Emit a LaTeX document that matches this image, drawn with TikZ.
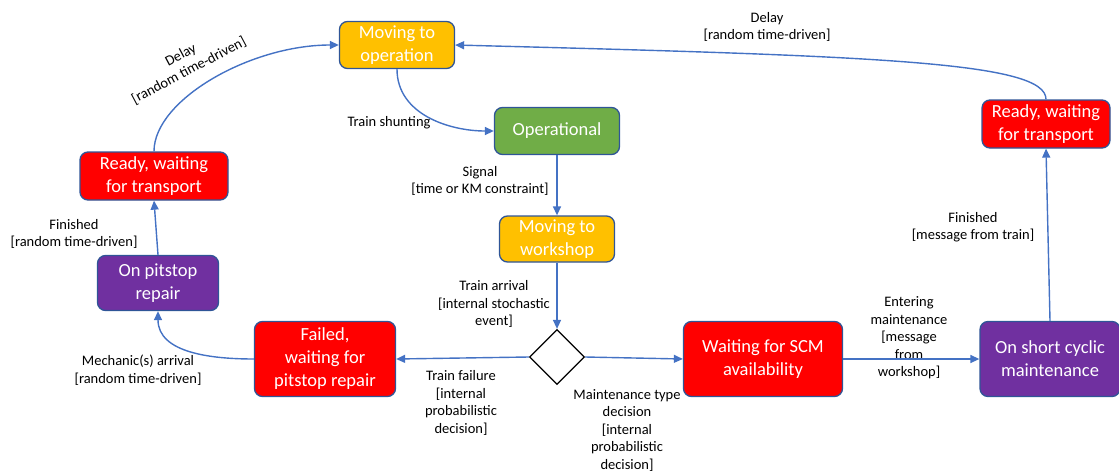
\documentclass[tikz,border=0pt]{standalone}
\usepackage{fontspec}
\setmainfont{Carlito}
\usetikzlibrary{positioning, shapes.geometric, arrows.meta}
\definecolor{stOrange}{RGB}{255,192,0}
\definecolor{stGreen}{RGB}{112,173,71}
\definecolor{stRed}{RGB}{255,0,0}
\definecolor{stPurple}{RGB}{112,48,160}
\definecolor{stBorder}{RGB}{47,85,151}
\definecolor{stArrow}{RGB}{68,114,196}

\begin{document}
\begin{tikzpicture}[x=1pt, y=-1pt,
    state/.style={rectangle, rounded corners=8pt, draw=stBorder, line width=1.3pt, text=white, align=center, font=\fontsize{18.5}{23}\selectfont, inner sep=2pt},
    decision/.style={diamond, draw=black, fill=white, line width=1.2pt, minimum width=55pt, minimum height=55pt, inner sep=0pt},
    trans/.style={stArrow, line width=1.4pt, -{Triangle[length=9pt, width=8pt]}},
    lbl/.style={align=center, font=\fontsize{14.5}{17.5}\selectfont, text=black}
]
\useasboundingbox (0,0) rectangle (1119,471);

% states
\node[state, fill=stOrange, minimum width=115pt, minimum height=47pt] (movop) at (397,45) {Moving to\\operation};
\node[state, fill=stGreen, minimum width=125pt, minimum height=47pt] (oper) at (557,131) {Operational};
\node[state, fill=stOrange, minimum width=115pt, minimum height=46pt] (movws) at (557,239) {Moving to\\workshop};
\node[decision] (dec) at (557,357) {};
\node[state, fill=stRed, minimum width=141pt, minimum height=75pt] (failed) at (325,359) {Failed,\\waiting for\\pitstop repair};
\node[state, fill=stPurple, minimum width=121pt, minimum height=55pt] (pitstop) at (158,283) {On pitstop\\repair};
\node[state, fill=stRed, minimum width=148pt, minimum height=48pt] (readyl) at (154,176) {Ready, waiting\\for transport};
\node[state, fill=stRed, minimum width=159pt, minimum height=75pt] (scmwait) at (763,359) {Waiting for SCM\\availability};
\node[state, fill=stPurple, minimum width=140pt, minimum height=75pt] (scm) at (1050,359) {On short cyclic\\maintenance};
\node[state, fill=stRed, minimum width=128pt, minimum height=48pt] (readyr) at (1046,124) {Ready, waiting\\for transport};

% transition labels
\node[lbl, rotate=28] (delayl) at (185,63) {Delay\\{[}random time-driven{]}};
\node[lbl] (shunt) at (389,123) {Train shunting};
\node[lbl] (signal) at (480,181) {Signal\\{[}time or KM constraint{]}};
\node[lbl] (finl) at (74,234) {Finished\\{[}random time-driven{]}};
\node[lbl] (arrive) at (494,304) {Train arrival\\{[}internal stochastic\\event{]}};
\node[lbl] (mech) at (138,370) {Mechanic(s) arrival\\{[}random time-driven{]}};
\node[lbl] (fail) at (461,403) {Train failure\\{[}internal\\probabilistic\\decision{]}};
\node[lbl] (mtype) at (627,430) {Maintenance type\\decision\\{[}internal\\probabilistic\\decision{]}};
\node[lbl] (enter) at (909,338) {Entering\\maintenance\\{[}message\\from\\workshop{]}};
\node[lbl] (finr) at (973,227) {Finished\\{[}message from train{]}};
\node[lbl] (delayr) at (767,27) {Delay\\{[}random time-driven{]}};

% transitions
\draw[trans] (readyl.north) .. controls (154,100) and (250,45) .. (movop.west);
\draw[trans] (movop.south) to[out=-90, in=180] (oper.west);
\draw[trans] (oper.south) -- (movws.north);
\draw[trans] (movws.south) -- (dec.north);
\draw[trans] (dec.west) -- (failed.east);
\draw[trans] (failed.west) to[out=180, in=-90] (pitstop.south);
\draw[trans] (pitstop.north) -- (readyl.south);
\draw[trans] (dec.east) -- (scmwait.west);
\draw[trans] (scmwait.east) -- (scm.west);
\draw[trans] (scm.north) -- (readyr.south);
\draw[trans] (readyr.north) .. controls (1046,62) and (880,56) .. (movop.east);

\end{tikzpicture}
\end{document}
